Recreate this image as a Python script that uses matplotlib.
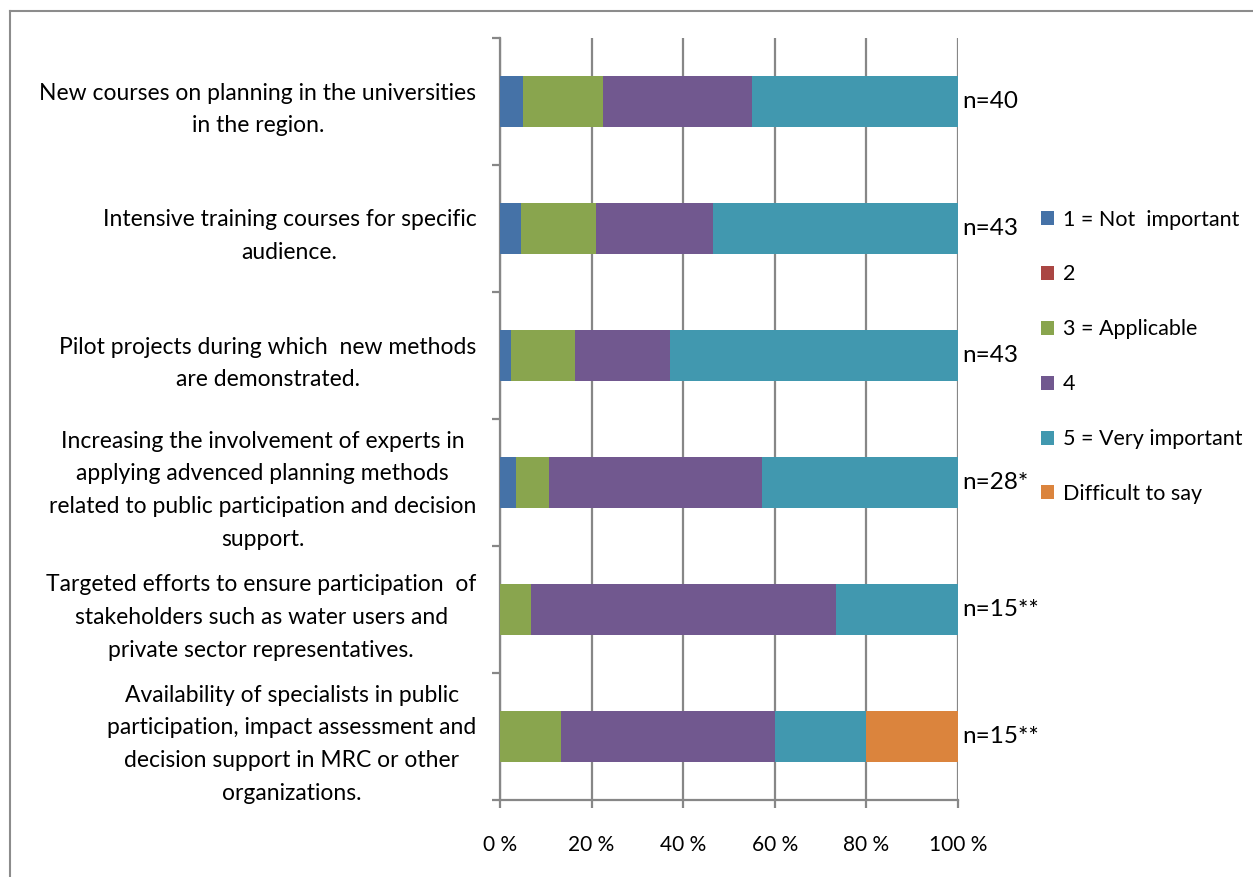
import matplotlib
matplotlib.use("Agg")
import matplotlib.pyplot as plt
from matplotlib.lines import Line2D
from matplotlib.patches import Patch
import numpy as np

plt.rcParams['font.family'] = ['Lato', 'DejaVu Sans']

categories = [
    "New courses on planning in the universities\nin the region.",
    "Intensive training courses for specific\naudience.",
    "Pilot projects during which  new methods\nare demonstrated.",
    "Increasing the involvement of experts in\napplying advenced planning methods\nrelated to public participation and decision\nsupport.",
    "Targeted efforts to ensure participation  of\nstakeholders such as water users and\nprivate sector representatives.",
    "Availability of specialists in public\nparticipation, impact assessment and\ndecision support in MRC or other\norganizations.",
]
n_labels = ["n=40", "n=43", "n=43", "n=28*", "n=15**", "n=15**"]

series_names = ["1 = Not  important", "2", "3 = Applicable", "4",
                "5 = Very important", "Difficult to say"]
# shares of answers, percent
s1 = [5.0, 4.65, 2.33, 3.57, 0.0, 0.0]
s2 = [0.0, 0.0, 0.0, 0.0, 0.0, 0.0]
s3 = [17.5, 16.28, 13.95, 7.14, 6.67, 13.33]
s4 = [32.5, 25.58, 20.93, 46.43, 66.67, 46.67]
s5 = [45.0, 53.49, 62.79, 42.86, 26.67, 20.0]
s6 = [0.0, 0.0, 0.0, 0.0, 0.0, 20.0]
series = [s1, s2, s3, s4, s5, s6]
colors = ["#4572A7", "#AA4643", "#89A54E", "#71588F", "#4198AF", "#DB843D"]

x_ticks = [0, 20, 40, 60, 80, 100]
x_ticklabels = ["0 %", "20 %", "40 %", "60 %", "80 %", "100 %"]

W, H = 1253, 877
fig = plt.figure(figsize=(W / 100, H / 100), dpi=100)
ax = fig.add_axes([500 / W, 1 - 800 / H, 458 / W, 762 / H])

grid_c = "#878787"
ypos = np.arange(len(categories))
left = np.zeros(len(categories))
for vals, col in zip(series, colors):
    ax.barh(ypos, vals, left=left, height=0.4, color=col,
            edgecolor="none", zorder=3)
    left += np.array(vals)

for i, lab in enumerate(n_labels):
    ax.text(101.0, ypos[i], lab, va="center", ha="left", fontsize=17.5,
            color="black")

ax.set_xlim(0, 100)
ax.set_ylim(len(categories) - 0.5, -0.5)
ax.set_xticks(x_ticks)
ax.set_xticklabels(x_ticklabels, fontsize=15)
ax.xaxis.grid(True, color=grid_c, linewidth=1.6, zorder=0)
ax.set_axisbelow(True)

ax.set_yticks(ypos)
ax.set_yticklabels(categories, fontsize=16.5, multialignment="center",
                   linespacing=1.7)
ax.set_yticks(np.arange(-0.5, len(categories)), minor=True)
ax.tick_params(axis="y", which="major", length=0, pad=17)
ax.tick_params(axis="y", which="minor", length=6, width=1.6, color=grid_c)
ax.tick_params(axis="x", which="major", length=6, width=1.6, color=grid_c,
               pad=19)

for s in ["top", "right"]:
    ax.spines[s].set_visible(False)
for s in ["left", "bottom"]:
    ax.spines[s].set_color(grid_c)
    ax.spines[s].set_linewidth(1.6)

handles = [Patch(facecolor=c, edgecolor="none") for c in colors]
fig.legend(handles, series_names, loc="upper left",
           bbox_to_anchor=(1032 / W, 1 - 201 / H), frameon=False,
           fontsize=15.5, handlelength=0.62, handleheight=0.62,
           handletextpad=0.42, labelspacing=1.62, borderaxespad=0)

# chart frame (top and left edges)
fig.add_artist(Line2D([10 / W, 1.0], [1 - 11 / H, 1 - 11 / H],
                      color="#8c8c8c", linewidth=1.5, transform=fig.transFigure))
fig.add_artist(Line2D([10 / W, 10 / W], [0.0, 1 - 11 / H],
                      color="#8c8c8c", linewidth=1.5, transform=fig.transFigure))

fig.savefig("out.png", dpi=100, facecolor="white")
